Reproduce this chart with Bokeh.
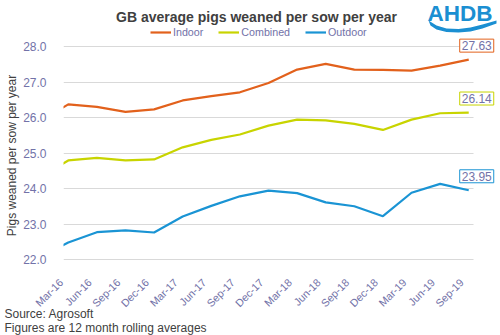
from bokeh.plotting import figure
from bokeh.models import (Range1d, FixedTicker, Label, Legend, LegendItem,
                          PolyAnnotation, BoxAnnotation, NumeralTickFormatter, Grid)
from bokeh.embed import file_html
from bokeh.resources import INLINE
import math

# ---- data (quarterly, month index from Mar-16 = 0; first point lies just off the left edge) ----
months = [-3, 0, 3, 6, 9, 12, 15, 18, 21, 24, 27, 30, 33, 36, 39, 42]
tick_months = [0, 3, 6, 9, 12, 15, 18, 21, 24, 27, 30, 33, 36, 39, 42]
tick_labels = ["Mar-16", "Jun-16", "Sep-16", "Dec-16", "Mar-17", "Jun-17", "Sep-17",
               "Dec-17", "Mar-18", "Jun-18", "Sep-18", "Dec-18", "Mar-19", "Jun-19", "Sep-19"]
indoor = [25.89, 26.37, 26.30, 26.16, 26.23, 26.48, 26.60, 26.71, 26.97, 27.35,
          27.51, 27.35, 27.34, 27.32, 27.46, 27.63]
combined = [24.31, 24.79, 24.86, 24.79, 24.82, 25.16, 25.37, 25.52, 25.77, 25.94,
            25.92, 25.82, 25.65, 25.94, 26.12, 26.14]
outdoor = [22.06, 22.48, 22.77, 22.82, 22.76, 23.21, 23.51, 23.78, 23.94, 23.87,
           23.61, 23.50, 23.22, 23.88, 24.13, 23.95]
y_ticks = [22, 23, 24, 25, 26, 27, 28]

series = [("Indoor", indoor, "#E2611C"),
          ("Combined", combined, "#C8D400"),
          ("Outdoor", outdoor, "#1A94D4")]

FONT = "Liberation Sans"
TICK_COLOR = "#7272A8"
DARK = "#404040"

# ---- layout: the plotting area spans the whole canvas; the chart area is
# pixels 63..473 (x) and 46..259 (y) of the 500x335 canvas ----
W, H = 500, 335
AX_L, AX_R, AX_T, AX_B = 63, 473, 46, 259
X0, X1 = -0.5, 42.5           # month range of the chart area
Y0, Y1 = 22.0, 28.0           # value range of the chart area
ppx = (AX_R - AX_L) / (X1 - X0)
ppy = (AX_B - AX_T) / (Y1 - Y0)
xr = Range1d(X0 - AX_L / ppx, X1 + (W - AX_R) / ppx)
yr = Range1d(Y0 - (H - AX_B) / ppy, Y1 + AX_T / ppy)

p = figure(width=W, height=H, output_backend="svg", toolbar_location=None,
           x_range=xr, y_range=yr,
           min_border_left=0, min_border_right=0, min_border_top=0, min_border_bottom=0)
p.outline_line_color = None
p.background_fill_color = "white"
p.border_fill_color = "white"

# axes pinned to the edges of the chart area
LABEL_SHIFT = 0.75  # rotated labels end at their category
p.xaxis.fixed_location = Y0
p.xaxis.ticker = FixedTicker(ticks=[m - LABEL_SHIFT for m in tick_months])
p.xaxis.major_label_overrides = {m - LABEL_SHIFT: lab for m, lab in zip(tick_months, tick_labels)}
p.xaxis.major_label_orientation = math.pi / 4
p.xaxis.major_label_text_font = FONT
p.xaxis.major_label_text_font_size = "10.7px"
p.xaxis.major_label_text_color = TICK_COLOR
p.xaxis.major_label_standoff = 15
p.xaxis.axis_line_color = None
p.xaxis.major_tick_line_color = None
p.xaxis.minor_tick_line_color = None

p.yaxis.fixed_location = X0
p.yaxis.ticker = FixedTicker(ticks=y_ticks)
p.yaxis.formatter = NumeralTickFormatter(format="0.0")
p.yaxis.major_label_text_font = FONT
p.yaxis.major_label_text_font_size = "12px"
p.yaxis.major_label_text_color = TICK_COLOR
p.yaxis.major_label_standoff = 11
p.yaxis.axis_line_color = None
p.yaxis.major_tick_line_color = None
p.yaxis.minor_tick_line_color = None

p.xgrid.grid_line_color = None
p.ygrid.grid_line_color = "#D9D9D9"
p.ygrid.grid_line_width = 1
p.ygrid.ticker = FixedTicker(ticks=y_ticks)
if "cross_bounds" in Grid.properties():
    p.ygrid.cross_bounds = (X0, X1)
else:
    p.add_layout(BoxAnnotation(left=X1, fill_color="white", fill_alpha=1,
                               line_color=None, level="underlay"))

items = []
for name, vals, col in series:
    r = p.line(months, vals, line_color=col, line_width=2.2)
    items.append(LegendItem(label=name, renderers=[r]))

# white mask left of the chart area (clips the line start like the original)
p.add_layout(BoxAnnotation(right=X0, fill_color="white", fill_alpha=1,
                           line_color=None, level="glyph"))

for name, vals, col in series:
    p.add_layout(Label(x=months[-1], y=vals[-1], text=f"{vals[-1]:.2f}",
                       x_offset=8, y_offset=14, text_align="center",
                       text_baseline="middle", text_font=FONT,
                       text_font_size="12px", text_color=TICK_COLOR,
                       border_line_color=col, border_line_width=1,
                       background_fill_color="white", padding=2))

legend = Legend(items=items, orientation="horizontal", location=(150, H - 38),
                label_text_font=FONT, label_text_font_size="10.7px",
                label_text_color=TICK_COLOR, glyph_width=21, glyph_height=12,
                label_height=12, label_standoff=2, spacing=15, padding=0,
                margin=0, border_line_color=None, background_fill_alpha=0)
p.add_layout(legend)

# y-axis title
p.add_layout(Label(x=11, y=H - 155, x_units="screen", y_units="screen",
                   text="Pigs weaned per sow per year", angle=math.pi / 2,
                   text_align="center", text_baseline="middle", text_font=FONT,
                   text_font_size="12px", text_color=DARK))

# title and notes (screen units, origin at bottom-left of the canvas)
p.add_layout(Label(x=256, y=H - 16, x_units="screen", y_units="screen",
                   text="GB average pigs weaned per sow per year",
                   text_align="center", text_baseline="middle", text_font=FONT,
                   text_font_size="14px", text_font_style="bold", text_color=DARK))
p.add_layout(Label(x=4, y=H - 313, x_units="screen", y_units="screen",
                   text="Source: Agrosoft", text_baseline="middle",
                   text_font=FONT, text_font_size="12px", text_color=DARK))
p.add_layout(Label(x=4, y=H - 327, x_units="screen", y_units="screen",
                   text="Figures are 12 month rolling averages", text_baseline="middle",
                   text_font=FONT, text_font_size="12px", text_color=DARK))

# AHDB logo
LOGO = "#1B8FD2"
p.add_layout(Label(x=427, y=H - 13, x_units="screen", y_units="screen", text="AHDB",
                   text_baseline="alphabetic", text_font=FONT, text_font_size="22.5px",
                   text_font_style="bold", text_color=LOGO))
wave_cx = [428, 436, 446, 458, 470, 482, 496, 496, 482, 470, 458, 446, 436, 430]
wave_cy = [20, 25, 28, 28.5, 27, 24, 20, 23, 28, 31, 32, 31.5, 29, 25]
p.add_layout(PolyAnnotation(xs=wave_cx, ys=[H - c for c in wave_cy],
                            xs_units="screen", ys_units="screen",
                            fill_color=LOGO, fill_alpha=1, line_color=None))

open("out.html", "w").write(file_html(p, INLINE))
